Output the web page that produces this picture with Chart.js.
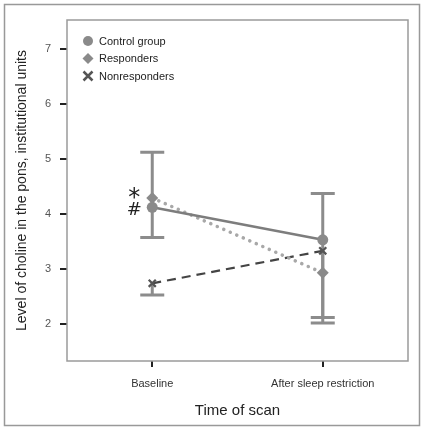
<!DOCTYPE html>
<html>
<head>
<meta charset="utf-8">
<script src="https://cdn.jsdelivr.net/npm/chart.js@4"></script>
<style>
  body { margin: 0; background: #fff; }
  canvas { display: block; }
</style>
</head>
<body>
<canvas id="cholineChart" width="423" height="430"></canvas>
<script>
// time points (x = 0, 1)
var timeLabels = ['Baseline', 'After sleep restriction'];
var timeX = [0, 1];

var controlValues = [4.12, 3.53];
var responderValues = [4.29, 2.93];
var nonresponderValues = [2.74, 3.33];

// visible error bars
var errLow = [3.57, 2.12];     // control / responders lower end
var errHigh = [5.12, 4.37];    // upper end
var nonrespLow = [2.53, 2.02]; // nonresponders lower end

var yTicks = [2, 3, 4, 5, 6, 7];

// significance marks near baseline
var marks = [{ text: '*', y: 4.36, size: 24 }, { text: '#', y: 4.07, size: 18 }];

function pts(vals) {
    return vals.map(function (v, i) { return { x: timeX[i], y: v }; });
}

var errorBars = {
    id: 'errorBars',
    beforeDatasetsDraw: function (chart) {
        var ctx = chart.ctx, xs = chart.scales.x, ys = chart.scales.y;
        var a = chart.chartArea;
        ctx.save();
        // plot frame
        ctx.strokeStyle = '#9a9a9a';
        ctx.lineWidth = 1.5;
        ctx.strokeRect(a.left, a.top, a.right - a.left, a.bottom - a.top);
        // outer figure frame
        ctx.strokeStyle = '#999';
        ctx.lineWidth = 1.5;
        ctx.strokeRect(4.5, 4.5, 415, 421);

        ctx.strokeStyle = '#8c8c8c';
        ctx.lineWidth = 3;
        function bar(xv, lo, hi, capLo, capHi) {
            var px = xs.getPixelForValue(xv);
            var y1 = ys.getPixelForValue(lo), y2 = ys.getPixelForValue(hi);
            ctx.beginPath();
            ctx.moveTo(px, y1); ctx.lineTo(px, y2);
            if (capLo) { ctx.moveTo(px - 12, y1); ctx.lineTo(px + 12, y1); }
            if (capHi) { ctx.moveTo(px - 12, y2); ctx.lineTo(px + 12, y2); }
            ctx.stroke();
        }
        for (var i = 0; i < timeX.length; i++) {
            bar(timeX[i], errLow[i], errHigh[i], true, true);
            bar(timeX[i], nonrespLow[i], nonresponderValues[i], true, false);
        }
        ctx.restore();
    },
    afterDatasetsDraw: function (chart) {
        var ctx = chart.ctx, xs = chart.scales.x, ys = chart.scales.y;
        ctx.save();
        ctx.fillStyle = '#222';
        ctx.textAlign = 'center';
        ctx.textBaseline = 'middle';
        marks.forEach(function (m) {
            ctx.font = m.size + 'px "DejaVu Sans"';
            var dy = m.text === '*' ? 5 : 0;
            ctx.fillText(m.text, xs.getPixelForValue(0) - 18, ys.getPixelForValue(m.y) + dy);
        });

        // legend inside the plot
        var a = chart.chartArea;
        var lx = a.left + 21, ly = a.top + 21;
        ctx.font = '11px "Liberation Sans"';
        ctx.textAlign = 'left';
        chart.data.datasets.forEach(function (ds, i) {
            var y = ly + i * 17.5;
            ctx.fillStyle = ds.pointBackgroundColor;
            ctx.strokeStyle = ds.pointBorderColor;
            if (ds.pointStyle === 'circle') {
                ctx.beginPath(); ctx.arc(lx, y, 5, 0, Math.PI * 2); ctx.fill();
            } else if (ds.pointStyle === 'rectRot') {
                ctx.beginPath();
                ctx.moveTo(lx, y - 5.5); ctx.lineTo(lx + 5.5, y);
                ctx.lineTo(lx, y + 5.5); ctx.lineTo(lx - 5.5, y);
                ctx.closePath(); ctx.fill();
            } else {
                ctx.lineWidth = 2.5;
                ctx.beginPath();
                ctx.moveTo(lx - 4.5, y - 4.5); ctx.lineTo(lx + 4.5, y + 4.5);
                ctx.moveTo(lx + 4.5, y - 4.5); ctx.lineTo(lx - 4.5, y + 4.5);
                ctx.stroke();
            }
            ctx.fillStyle = '#222';
            ctx.fillText(ds.label, lx + 11, y + 0.5);
        });
        ctx.restore();
    }
};

var ctx = document.getElementById('cholineChart').getContext('2d');
var myChart = new Chart(ctx, {
    type: 'line',
    data: {
        datasets: [{
            label: 'Control group',
            data: pts(controlValues),
            borderColor: '#7d7d7d',
            borderWidth: 2.5,
            pointStyle: 'circle',
            pointRadius: 5.5,
            pointBackgroundColor: '#8a8a8a',
            pointBorderColor: '#8a8a8a',
            pointBorderWidth: 0
        }, {
            label: 'Responders',
            data: pts(responderValues),
            borderColor: '#a8a8a8',
            borderWidth: 3.5,
            borderDash: [0.1, 7],
            borderCapStyle: 'round',
            pointStyle: 'rectRot',
            pointRadius: 6,
            pointBackgroundColor: '#8a8a8a',
            pointBorderColor: '#8a8a8a',
            pointBorderWidth: 0
        }, {
            label: 'Nonresponders',
            data: pts(nonresponderValues),
            borderColor: '#444444',
            borderWidth: 2.2,
            borderDash: [9, 6],
            pointStyle: 'crossRot',
            pointRadius: 5,
            pointBackgroundColor: '#555555',
            pointBorderColor: '#555555',
            pointBorderWidth: 2.2
        }]
    },
    options: {
        responsive: false,
        animation: false,
        layout: { padding: { top: 20, right: 15, left: 0, bottom: 0 } },
        plugins: { legend: { display: false }, tooltip: { enabled: false } },
        scales: {
            x: {
                type: 'linear',
                min: -0.5,
                max: 1.5,
                afterFit: function (s) { s.height = 69; },
                afterBuildTicks: function (s) { s.ticks = timeX.map(function (v) { return { value: v }; }); },
                ticks: {
                    color: '#333',
                    font: { family: 'Liberation Sans', size: 11 },
                    padding: 10,
                    maxRotation: 0,
                    callback: function (v) { return timeLabels[v]; }
                },
                grid: { drawOnChartArea: false, drawTicks: true, tickLength: 6, color: '#222', lineWidth: 2 },
                border: { display: false },
                title: {
                    display: true,
                    text: 'Time of scan',
                    color: '#222',
                    font: { family: 'Liberation Sans', size: 15 },
                    padding: { top: 4, bottom: 10 }
                }
            },
            y: {
                min: 1.33,
                max: 7.52,
                afterFit: function (s) { s.width = 67; },
                afterBuildTicks: function (s) { s.ticks = yTicks.map(function (v) { return { value: v }; }); },
                ticks: {
                    color: '#555',
                    font: { family: 'Liberation Sans', size: 11 },
                    padding: 9
                },
                grid: { drawOnChartArea: false, drawTicks: true, tickLength: 7, color: '#222', lineWidth: 2 },
                border: { display: false },
                title: {
                    display: true,
                    text: 'Level of choline in the pons, institutional units',
                    color: '#222',
                    font: { family: 'Liberation Sans', size: 14 },
                    padding: { top: 14, bottom: 4 }
                }
            }
        }
    },
    plugins: [errorBars]
});
</script>
</body>
</html>
